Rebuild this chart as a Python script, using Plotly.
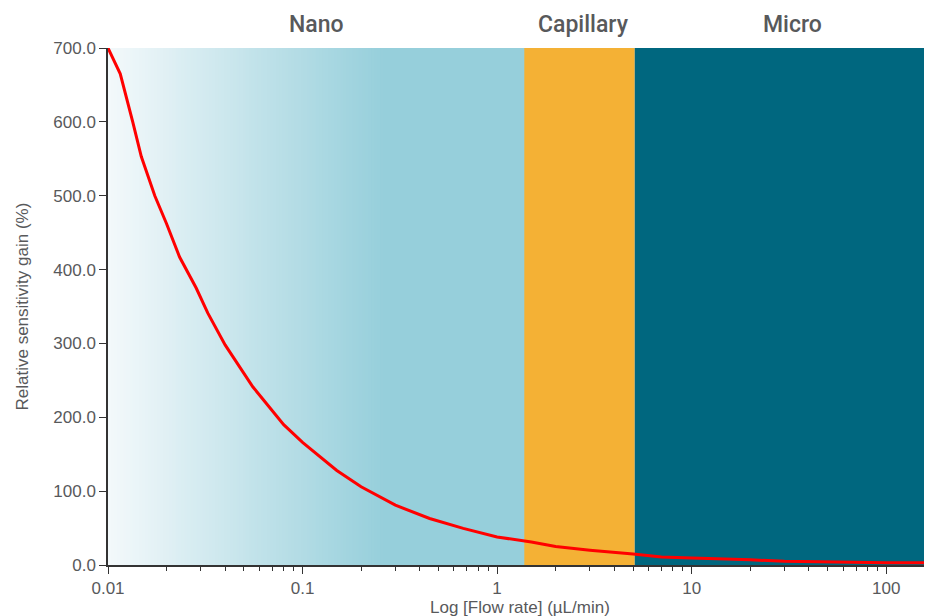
import math
import plotly.graph_objects as go

# Data
flow_rate = [0.01, 0.01156, 0.0134, 0.01483, 0.0174, 0.02, 0.02333, 0.0284, 0.0326, 0.04,
             0.0556, 0.08, 0.1, 0.15, 0.2, 0.3, 0.45, 0.67, 1.0, 1.5, 2.0, 3.0, 5.0, 7.0,
             10.0, 15.0, 20.0, 30.0, 50.0, 100.0, 172.0]
sensitivity_gain = [700, 665, 600, 553, 500, 462, 417, 375, 341, 298,
                    241, 190, 166, 128, 106, 81, 63, 49.6, 38, 31, 25, 20, 15, 11,
                    9.5, 8.5, 7, 5, 4, 3, 3]

region_names = ["Nano", "Capillary", "Micro"]
region_label_x = [0.118, 2.78, 33.0]
region_bounds = [0.01, 1.38, 5.1, 172.0]
region_colors = ["#96cfdb", "#f4b135", "#00677f"]
nano_light = "#f4f9fb"
nano_gradient_end = 0.26

y_ticks = [0, 100, 200, 300, 400, 500, 600, 700]
x_ticks = [0.01, 0.1, 1, 10, 100]
x_tick_labels = ["0.01", "0.1", "1", "10", "100"]

fig = go.Figure()

def hex2rgb(h):
    h = h.lstrip("#")
    return tuple(int(h[i:i + 2], 16) for i in (0, 2, 4))

shapes = []
# Nano gradient: overlapping strips, each reaching to the end of the Nano band
c0 = hex2rgb(nano_light)
c1 = hex2rgb(region_colors[0])
n = 90
l0 = math.log10(region_bounds[0])
l1 = math.log10(nano_gradient_end)
for i in range(n):
    a = l0 + (l1 - l0) * i / n
    t = (i + 0.5) / n
    col = "rgb(%d,%d,%d)" % tuple(round(c0[k] + (c1[k] - c0[k]) * t) for k in range(3))
    shapes.append(dict(type="rect", xref="x", yref="y", x0=10 ** a, x1=region_bounds[1],
                       y0=0, y1=700, fillcolor=col, line=dict(width=0), layer="below"))
shapes.append(dict(type="rect", xref="x", yref="y", x0=nano_gradient_end, x1=region_bounds[1],
                   y0=0, y1=700, fillcolor=region_colors[0], line=dict(width=0), layer="below"))
for i in (1, 2):
    shapes.append(dict(type="rect", xref="x", yref="y", x0=region_bounds[i], x1=region_bounds[i + 1],
                       y0=0, y1=700, fillcolor=region_colors[i], line=dict(width=0), layer="below"))

text_color = "#58595b"
font_main = "Liberation Sans, Arial"

annotations = []
for name, lx in zip(region_names, region_label_x):
    annotations.append(dict(x=math.log10(lx), y=1.0, xref="x", yref="paper", yanchor="middle",
                            yshift=24, text=name, showarrow=False,
                            font=dict(family="Roboto", size=23, color=text_color, weight=500)))
# Axis titles
annotations.append(dict(x=0.5, y=0, xref="paper", yref="paper", yanchor="middle", yshift=-42,
                        text="Log [Flow rate] (µL/min)", showarrow=False,
                        font=dict(family=font_main, size=17, color=text_color)))
annotations.append(dict(x=0, y=0.5, xref="paper", yref="paper", xanchor="center", xshift=-86,
                        text="Relative sensitivity gain (%)", textangle=-90, showarrow=False,
                        font=dict(family=font_main, size=17, color=text_color)))

fig.add_trace(go.Scatter(x=flow_rate, y=sensitivity_gain, mode="lines",
                         line=dict(color="#ff0000", width=3), showlegend=False))

minor_vals = []
for d in [0.01, 0.1, 1, 10, 100]:
    for m in range(2, 10):
        v = d * m
        if v <= region_bounds[-1]:
            minor_vals.append(v)

# The page places the figure 8px from the top-left corner
fig.update_layout(
    width=924, height=608,
    margin=dict(l=100, r=0, t=40, b=51),
    paper_bgcolor="white", plot_bgcolor="white",
    shapes=shapes, annotations=annotations,
    font=dict(family=font_main, color=text_color),
    xaxis=dict(type="log", range=[math.log10(region_bounds[0]), math.log10(region_bounds[-1])],
               tickvals=x_ticks, ticktext=x_tick_labels, ticks="outside", ticklen=7,
               tickcolor="#333333", tickwidth=1.3, automargin=False,
               minor=dict(tickvals=minor_vals, ticks="outside", ticklen=4, tickcolor="#333333",
                          showgrid=False),
               showline=True, linecolor="#333333", linewidth=1.5, showgrid=False, zeroline=False,
               tickfont=dict(size=17, color=text_color)),
    yaxis=dict(range=[0, 700], tickvals=y_ticks, tickformat=".1f", ticks="outside", ticklen=7,
               tickcolor="#333333", tickwidth=1.3, automargin=False,
               showline=True, linecolor="#333333", linewidth=1.5, showgrid=False, zeroline=False,
               tickfont=dict(size=17, color=text_color)),
)

fig.write_html("out.html")
